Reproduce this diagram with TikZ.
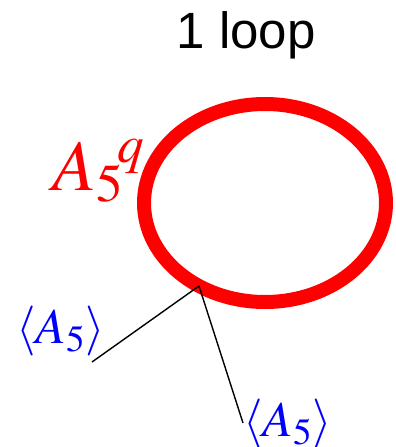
\documentclass[tikz,border=0pt]{standalone}
\usepackage{mathptmx}
\usepackage{fontspec}
\newfontfamily\titlefont{Liberation Sans}
\begin{document}
\begin{tikzpicture}[x=1pt,y=-1pt,
  lbl/.style={inner sep=0pt,anchor=base west,text=blue,font=\fontsize{50}{50}\selectfont},
  conn/.style={draw=black,line width=1.4pt}]
\useasboundingbox (0,0) rectangle (396,447);
\node[inner sep=0pt,anchor=base,font=\titlefont\fontsize{51}{51}\selectfont] (title) at (246,48) {1 loop};
\draw[red,line width=14pt] (265,203) ellipse [x radius=121, y radius=99];
\coordinate (v) at (199,286);
\node[inner sep=0pt,anchor=base west,text=red,font=\fontsize{72}{72}\selectfont] (aq) at (52,190) {${A_5}^{\!q}$};
\node[lbl] (l1) at (16,343) {$\langle A_5\rangle$};
\node[lbl] (l2) at (243,436) {$\langle A_5\rangle$};
\coordinate (e1) at (92,362);
\coordinate (e2) at (243,423);
\draw[conn] (e1) -- (v) -- (e2);
\end{tikzpicture}
\end{document}
